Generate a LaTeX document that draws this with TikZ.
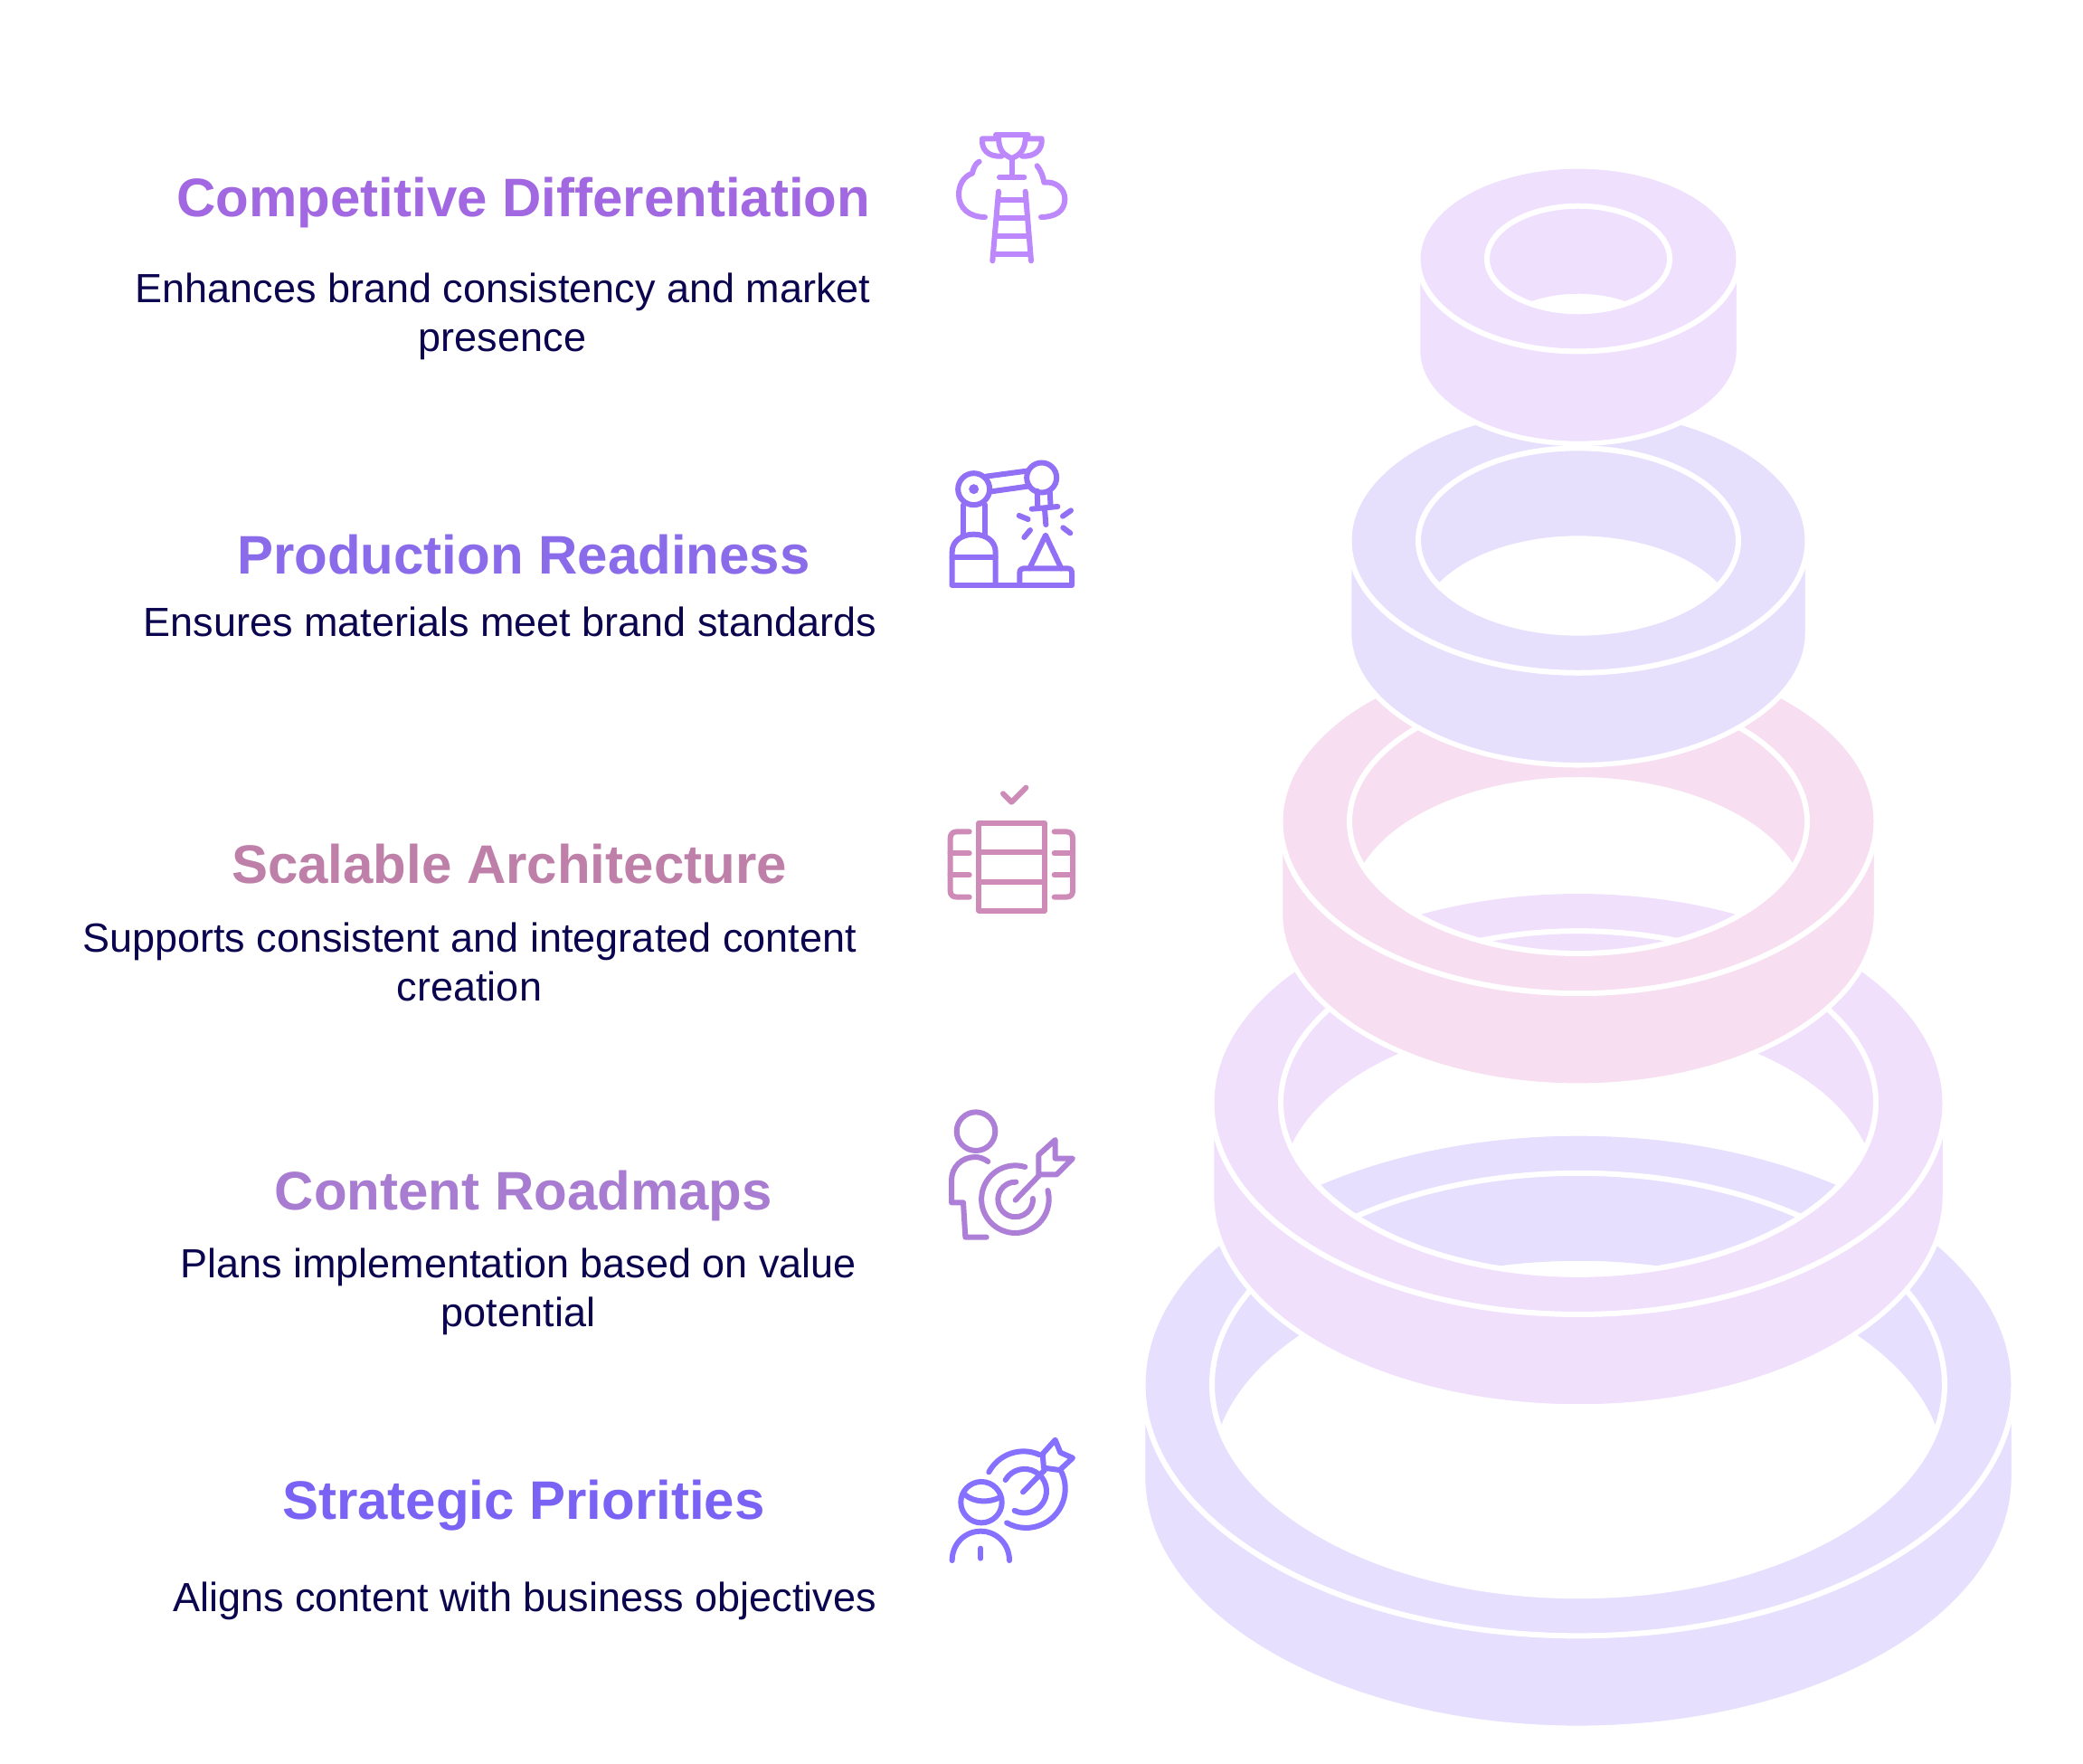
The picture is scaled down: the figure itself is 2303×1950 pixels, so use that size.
\documentclass[tikz,border=0pt]{standalone}
\usepackage{fontspec}
\setmainfont{Liberation Sans}
\definecolor{ringA}{HTML}{EFE0FE}
\definecolor{ringB}{HTML}{E7E0FD}
\definecolor{ringC}{HTML}{F7DEF0}
\definecolor{ringD}{HTML}{F0E0FC}
\definecolor{ringE}{HTML}{E6E0FE}
\definecolor{iconA}{HTML}{BC88FB}
\definecolor{iconB}{HTML}{9270F5}
\definecolor{iconC}{HTML}{CE8BB8}
\definecolor{iconD}{HTML}{AE7FD6}
\definecolor{iconE}{HTML}{8570FF}
\definecolor{headA}{HTML}{A268E2}
\definecolor{headB}{HTML}{8A6CEB}
\definecolor{headC}{HTML}{BE7FA8}
\definecolor{headD}{HTML}{A87CD0}
\definecolor{headE}{HTML}{7A62F5}
\definecolor{bodytext}{HTML}{0B0550}
\tikzset{
  head/.style={anchor=base,inner sep=0pt,font=\fontsize{60}{60}\selectfont\bfseries},
  desc/.style={anchor=base,inner sep=0pt,text=bodytext,font=\fontsize{45}{45}\selectfont},
  ico/.style={line width=6pt,line cap=round,line join=round}
}
\newcommand{\ringpart}[3]{%
  % #1 centre y, #2 outer semi-axis a, #3 colour
  \pgfmathsetmacro{\ra}{#2+2.5}
  \pgfmathsetmacro{\rb}{0.577*\ra}
  \pgfmathsetmacro{\ia}{#2-74}
  \pgfmathsetmacro{\ib}{0.577*\ia}
  \pgfmathsetmacro{\tt}{asin(48.5/\ib)}
  \pgfmathsetmacro{\hx}{\ia*cos(\tt)}
  \pgfmathsetmacro{\tta}{180+\tt}
  \pgfmathsetmacro{\ttb}{360-\tt}
  \pgfmathsetmacro{\ttc}{180-\tt}
  \fill[#3,even odd rule]
    (1745-\ra,#1) arc[start angle=180,end angle=0,x radius=\ra pt,y radius=\rb pt]
    -- ++(0,102) arc[start angle=0,end angle=-180,x radius=\ra pt,y radius=\rb pt] -- cycle
    (1745-\hx,#1+48.5) arc[start angle=\tta,end angle=\ttb,x radius=\ia pt,y radius=\ib pt]
    arc[start angle=\tt,end angle=\ttc,x radius=\ia pt,y radius=\ib pt] -- cycle;
  \draw[white,line width=5.5pt]
    (1745-\ra,#1) arc[start angle=180,end angle=0,x radius=\ra pt,y radius=\rb pt]
    -- ++(0,102) arc[start angle=0,end angle=-180,x radius=\ra pt,y radius=\rb pt] -- cycle;
  \draw[white,line width=6pt] (1745,#1) ellipse[x radius=\ra pt,y radius=\rb pt];
  \draw[white,line width=6pt] (1745,#1) ellipse[x radius=\ia pt,y radius=\ib pt];
}
\begin{document}
\begin{tikzpicture}[x=1pt,y=-1pt]
\useasboundingbox[fill=white] (0,0) rectangle (2303,1950);
% rings, lowest first
\ringpart{1530.5}{479}{ringE}
\ringpart{1219}{403}{ringD}
\ringpart{908}{327}{ringC}
\ringpart{597.5}{251}{ringB}
\ringpart{286}{175}{ringA}
% texts
\node[head,text=headA] (t1) at (579,239.5) {Competitive Differentiation};
\node[desc] (d1a) at (556,334.5) {Enhances brand consistency and market};
\node[desc] (d1b) at (555.5,388.5) {presence};
\node[head,text=headB] (t2) at (579,634.5) {Production Readiness};
\node[desc] (d2) at (564,703) {Ensures materials meet brand standards};
\node[head,text=headC] (t3) at (563,976.5) {Scalable Architecture};
\node[desc] (d3a) at (519,1052.5) {Supports consistent and integrated content};
\node[desc] (d3b) at (519,1106.5) {creation};
\node[head,text=headD] (t4) at (579,1337) {Content Roadmaps};
\node[desc] (d4a) at (573,1412.5) {Plans implementation based on value};
\node[desc] (d4b) at (573,1466.5) {potential};
\node[head,text=headE] (t5) at (579,1679.5) {Strategic Priorities};
\node[desc] (d5) at (580,1781.5) {Aligns content with business objectives};
% icon 1
\begin{scope}[shift={(1030,130)},x=0.33333pt,y=-0.33333pt,ico,draw=iconA]
\draw (213,58)--(320,58);
\draw (222,62) .. controls (222,105) and (235,122) .. (266,135) .. controls (297,122) and (310,105) .. (312,62);
\draw (210,70)--(168,70) .. controls (165,105) and (185,130) .. (232,128);
\draw (320,70)--(365,70) .. controls (368,105) and (345,130) .. (300,128);
\draw (266,135)--(266,198) (225,198)--(307,198);
\draw (222,245)--(202,475) (311,245)--(330,475);
\draw (222,272)--(310,272) (216,333)--(316,333) (212,392)--(320,392) (206,452)--(325,452);
\draw (158,146) .. controls (145,152) and (138,170) .. (135,185) .. controls (105,195) and (90,225) .. (90,255) .. controls (90,300) and (125,330) .. (177,330);
\draw (350,160) .. controls (362,175) and (370,195) .. (373,215) .. controls (410,210) and (442,235) .. (442,270) .. controls (442,310) and (410,330) .. (363,330);
\end{scope}
% icon 2
\begin{scope}[shift={(1030,500)},x=0.33333pt,y=-0.33333pt,ico,draw=iconB]
\draw (140,122) circle[radius=17.5pt];
\fill[iconB] (140,122) circle[radius=5.5pt];
\draw (365,84) circle[radius=16.5pt];
\draw (180,80)--(315,62) (198,130)--(325,112);
\draw (105,175)--(105,272) (178,175)--(178,272);
\draw (68,440)--(68,330) .. controls (68,295) and (100,272) .. (140,272) .. controls (180,272) and (212,295) .. (212,330)--(212,440);
\draw (68,440)--(465,440) (68,347)--(212,347);
\draw (292,440)--(292,400) .. controls (292,390) and (297,385) .. (305,385)--(450,385) .. controls (460,385) and (465,390) .. (465,400)--(465,440);
\draw (325,385)--(378,275)--(430,385);
\draw (350,128)--(352,185) (392,128)--(395,182);
\draw (332,188)--(418,180) (375,188)--(379,240);
\draw (290,210)--(320,222) (435,212)--(462,193) (436,250)--(460,268) (307,282)--(327,258);
\end{scope}
% icon 3
\begin{scope}[shift={(1030,850)},x=0.33333pt,y=-0.33333pt,ico,draw=iconC]
\draw (157,180) rectangle (375,470);
\draw (157,275)--(375,275) (157,375)--(375,375);
\draw (237,82)--(265,110)--(313,62);
\draw (125,208)--(85,208) .. controls (70,208) and (62,216) .. (62,230)--(62,405) .. controls (62,418) and (70,425) .. (85,425)--(125,425);
\draw (62,280)--(125,280) (62,352)--(125,352);
\draw (407,208)--(445,208) .. controls (460,208) and (468,216) .. (468,230)--(468,405) .. controls (468,418) and (460,425) .. (445,425)--(407,425);
\draw (407,280)--(468,280) (407,352)--(468,352);
\end{scope}
% icon 4
\begin{scope}[shift={(1030,1210)},x=0.33333pt,y=-0.33333pt,ico,draw=iconD]
\draw (147,122) circle[radius=21.3pt];
\draw (187,222) .. controls (170,210) and (155,207) .. (145,207) .. controls (100,207) and (66,240) .. (66,285)--(66,358)--(105,358)--(112,473)--(182,473);
\draw (310,240) arc[start angle=73,end angle=375,radius=37.3pt];
\draw (280,290) arc[start angle=88,end angle=363,radius=19.3pt];
\draw (278,350)--(355,270);
\draw (355,270)--(355,200)--(410,150)--(410,212)--(468,212)--(415,265)--(355,265)--cycle;
\end{scope}
% icon 5
\begin{scope}[shift={(1030,1570)},x=0.33333pt,y=-0.33333pt,ico,draw=iconE]
\draw (165,272) circle[radius=22.7pt];
\draw (112,248) .. controls (140,272) and (190,275) .. (228,255);
\draw (68,465) .. controls (68,410) and (110,368) .. (163,368) .. controls (215,368) and (258,410) .. (258,465);
\draw (163,425)--(163,458);
\draw (190,172) arc[start angle=152,end angle=66,radius=43.3pt];
\draw (430,170) arc[start angle=26,end angle=-119.5,radius=43.3pt];
\draw (245,198) arc[start angle=150,end angle=-117,radius=24.3pt];
\draw (303,238)--(375,165);
\draw (368,112)--(410,65)--(427,107)--(468,125)--(425,165)--(372,158)--cycle;
\end{scope}
\end{tikzpicture}
\end{document}
